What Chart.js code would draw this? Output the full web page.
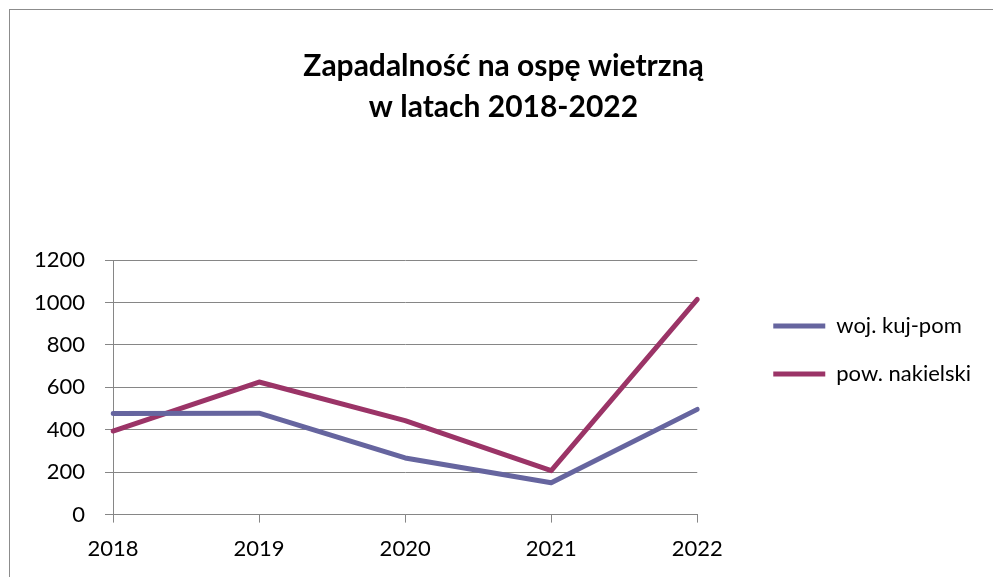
<!DOCTYPE html>
<html><head><meta charset="utf-8">
<script src="https://cdn.jsdelivr.net/npm/chart.js@4/dist/chart.umd.min.js"></script>
<style>
html,body{margin:0;padding:0;background:#fff;overflow:hidden;}
#wrap{position:relative;width:993px;height:577px;}
#frame{position:absolute;left:9px;top:9px;width:2000px;height:2000px;border-left:1px solid #8c8c8c;border-top:1px solid #8c8c8c;}
canvas{position:absolute;left:0;top:0;}
</style></head><body>
<div id="wrap"><div id="frame"></div><canvas id="c" width="993" height="577"></canvas></div>
<script>
const titleLines = ['Zapadalność na ospę wietrzną', 'w latach 2018-2022'];
const years = ['2018', '2019', '2020', '2021', '2022'];
const seriesNames = ['woj. kuj-pom', 'pow. nakielski'];
const wojKujPom = [476, 478, 267, 150, 496];
const powNakielski = [394, 625, 443, 207, 1014];
const yTicks = [0, 200, 400, 600, 800, 1000, 1200];
const colors = ['#66659F', '#9B3467'];

const grid = '#868686';
const FONT = 'Lato, "Open Sans", sans-serif';

new Chart(document.getElementById('c'), {
  type: 'line',
  data: {
    labels: years,
    datasets: [
      {label: seriesNames[0], data: wojKujPom, borderColor: colors[0], backgroundColor: colors[0], borderWidth: 5, pointRadius: 0, tension: 0, borderCapStyle: 'round', borderJoinStyle: 'round'},
      {label: seriesNames[1], data: powNakielski, borderColor: colors[1], backgroundColor: colors[1], borderWidth: 5, pointRadius: 0, tension: 0, borderCapStyle: 'round', borderJoinStyle: 'round'}
    ]
  },
  options: {
    responsive: false,
    animation: false,
    layout: {padding: {left: 26, right: 12, top: 0, bottom: 2}},
    plugins: {
      title: {
        display: true,
        text: titleLines,
        color: '#000',
        font: {family: FONT, size: 30, weight: 'bold', lineHeight: 1.367},
        padding: {top: 46, bottom: 132}
      },
      legend: {
        display: true,
        position: 'right',
        align: 'start',
        fullSize: false,
        maxWidth: 400,
        title: {display: true, text: '', font: {size: 10, lineHeight: 1.2}, padding: {top: 17, bottom: 0}},
        labels: {
          usePointStyle: true,
          pointStyle: 'line',
          pointStyleWidth: 52,
          boxHeight: 22,
          padding: 26,
          color: '#000',
          font: {family: FONT, size: 22}
        }
      },
      tooltip: {enabled: false}
    },
    scales: {
      x: {
        type: 'category',
        offset: false,
        grid: {display: true, drawOnChartArea: false, drawTicks: true, tickLength: 8, color: grid, lineWidth: 1},
        border: {display: true, color: grid, width: 1},
        ticks: {color: '#000', font: {family: FONT, size: 22}, padding: 13, maxRotation: 0}
      },
      y: {
        min: 0, max: 1200,
        afterBuildTicks: (s) => { s.ticks = yTicks.map(v => ({value: v})); },
        afterFit: (s) => { s.width = 87; },
        grid: {display: true, drawTicks: true, tickLength: 8, color: grid, lineWidth: 1},
        border: {display: true, color: grid, width: 1},
        ticks: {color: '#000', font: {family: FONT, size: 22}, padding: 20, callback: (v) => String(v)}
      },
      spacer: {
        type: 'linear',
        position: 'right',
        display: true,
        grid: {display: false, drawTicks: false},
        border: {display: false},
        ticks: {display: false},
        afterFit: (s) => { s.width = 50; }
      }
    }
  }
});
</script>
</body></html>
